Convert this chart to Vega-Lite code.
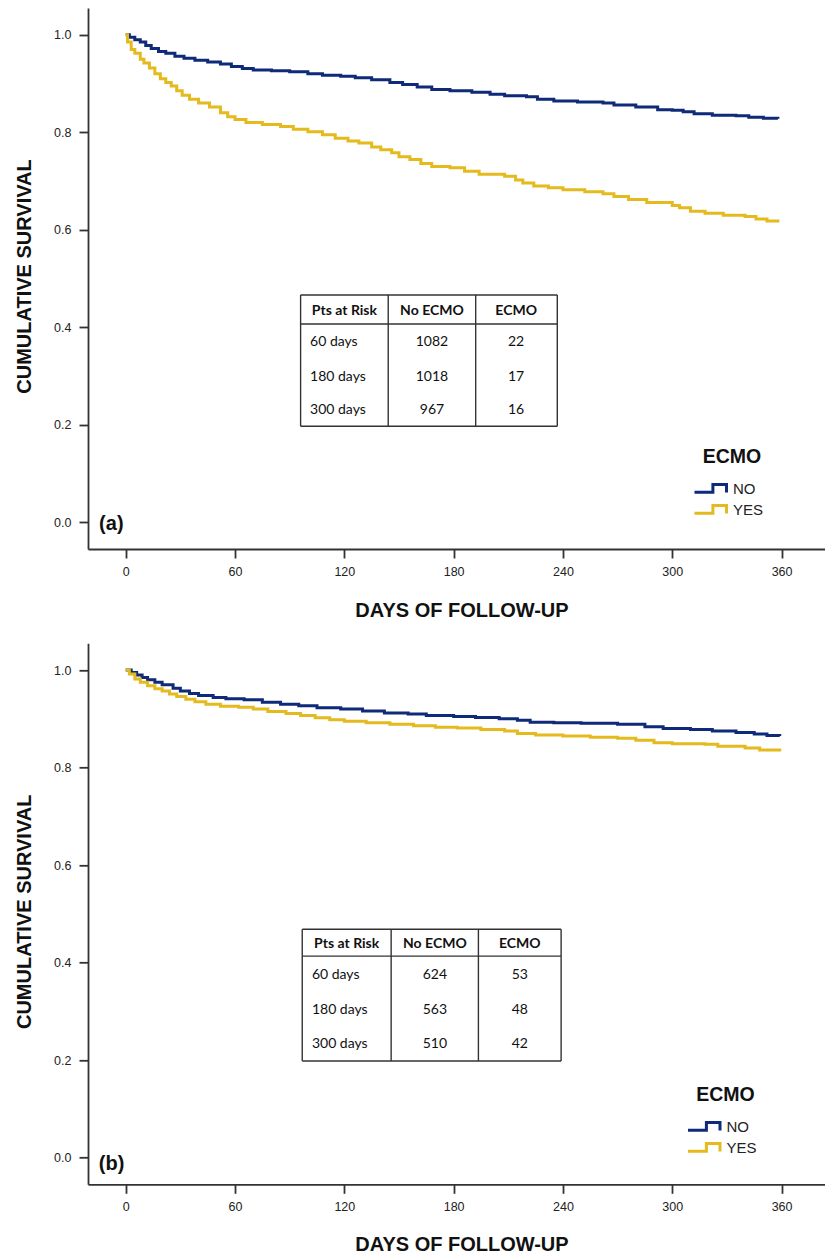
{
  "$schema": "https://vega.github.io/schema/vega-lite/v6.json",
  "padding": {"left": 14, "top": 8, "right": 0, "bottom": 0},
  "bounds": "flush",
  "spacing": 94.3,
  "background": "white",
  "config": {
    "view": {"stroke": null},
    "font": "Liberation Sans",
    "axis": {
      "grid": false,
      "labelFont": "Liberation Sans",
      "labelFontSize": 12.5,
      "labelColor": "#222222",
      "tickSize": 9,
      "tickWidth": 1.8,
      "tickColor": "#333333",
      "domainColor": "#333333",
      "domainWidth": 1.8,
      "titleFont": "Liberation Sans",
      "titleFontSize": 20,
      "titleFontWeight": "bold",
      "titleColor": "#111111",
      "titleBaseline": "alphabetic"
    },
    "axisX": {"labelPadding": 7, "titleX": 373.5, "titleY": 67.3, "labelFlush": false},
    "axisY": {"labelPadding": 8, "titleX": -58, "titleY": 268, "titleAngle": 270}
  },
  "datasets": {
    "a_curve": [
      {"day":0,"surv":1.0,"grp":"NO"},{"day":2,"surv":0.995,"grp":"NO"},{"day":5,"surv":0.99,"grp":"NO"},{"day":8,"surv":0.985,"grp":"NO"},{"day":11,"surv":0.978,"grp":"NO"},{"day":14,"surv":0.972,"grp":"NO"},{"day":18,"surv":0.966,"grp":"NO"},{"day":22,"surv":0.962,"grp":"NO"},{"day":27,"surv":0.956,"grp":"NO"},{"day":32,"surv":0.952,"grp":"NO"},{"day":38,"surv":0.948,"grp":"NO"},{"day":45,"surv":0.944,"grp":"NO"},{"day":52,"surv":0.94,"grp":"NO"},{"day":58,"surv":0.935,"grp":"NO"},{"day":64,"surv":0.931,"grp":"NO"},{"day":70,"surv":0.928,"grp":"NO"},{"day":80,"surv":0.926,"grp":"NO"},{"day":90,"surv":0.924,"grp":"NO"},{"day":100,"surv":0.92,"grp":"NO"},{"day":108,"surv":0.917,"grp":"NO"},{"day":118,"surv":0.915,"grp":"NO"},{"day":126,"surv":0.912,"grp":"NO"},{"day":135,"surv":0.908,"grp":"NO"},{"day":145,"surv":0.902,"grp":"NO"},{"day":152,"surv":0.898,"grp":"NO"},{"day":160,"surv":0.893,"grp":"NO"},{"day":168,"surv":0.888,"grp":"NO"},{"day":178,"surv":0.885,"grp":"NO"},{"day":190,"surv":0.882,"grp":"NO"},{"day":200,"surv":0.878,"grp":"NO"},{"day":208,"surv":0.875,"grp":"NO"},{"day":220,"surv":0.873,"grp":"NO"},{"day":226,"surv":0.868,"grp":"NO"},{"day":235,"surv":0.864,"grp":"NO"},{"day":248,"surv":0.862,"grp":"NO"},{"day":262,"surv":0.86,"grp":"NO"},{"day":268,"surv":0.856,"grp":"NO"},{"day":280,"surv":0.852,"grp":"NO"},{"day":292,"surv":0.846,"grp":"NO"},{"day":300,"surv":0.845,"grp":"NO"},{"day":306,"surv":0.842,"grp":"NO"},{"day":312,"surv":0.838,"grp":"NO"},{"day":322,"surv":0.835,"grp":"NO"},{"day":335,"surv":0.834,"grp":"NO"},{"day":342,"surv":0.831,"grp":"NO"},{"day":350,"surv":0.829,"grp":"NO"},{"day":358,"surv":0.828,"grp":"NO"},
      {"day":0,"surv":1.0,"grp":"YES"},{"day":1,"surv":0.985,"grp":"YES"},{"day":3,"surv":0.97,"grp":"YES"},{"day":5,"surv":0.962,"grp":"YES"},{"day":8,"surv":0.95,"grp":"YES"},{"day":10,"surv":0.942,"grp":"YES"},{"day":13,"surv":0.932,"grp":"YES"},{"day":16,"surv":0.92,"grp":"YES"},{"day":19,"surv":0.91,"grp":"YES"},{"day":22,"surv":0.902,"grp":"YES"},{"day":25,"surv":0.895,"grp":"YES"},{"day":28,"surv":0.885,"grp":"YES"},{"day":31,"surv":0.876,"grp":"YES"},{"day":35,"surv":0.868,"grp":"YES"},{"day":40,"surv":0.86,"grp":"YES"},{"day":46,"surv":0.852,"grp":"YES"},{"day":52,"surv":0.84,"grp":"YES"},{"day":56,"surv":0.832,"grp":"YES"},{"day":60,"surv":0.826,"grp":"YES"},{"day":66,"surv":0.82,"grp":"YES"},{"day":75,"surv":0.816,"grp":"YES"},{"day":85,"surv":0.812,"grp":"YES"},{"day":92,"surv":0.806,"grp":"YES"},{"day":100,"surv":0.801,"grp":"YES"},{"day":108,"surv":0.795,"grp":"YES"},{"day":115,"surv":0.788,"grp":"YES"},{"day":122,"surv":0.782,"grp":"YES"},{"day":128,"surv":0.778,"grp":"YES"},{"day":135,"surv":0.77,"grp":"YES"},{"day":140,"surv":0.764,"grp":"YES"},{"day":146,"surv":0.758,"grp":"YES"},{"day":150,"surv":0.75,"grp":"YES"},{"day":156,"surv":0.744,"grp":"YES"},{"day":162,"surv":0.736,"grp":"YES"},{"day":168,"surv":0.73,"grp":"YES"},{"day":178,"surv":0.727,"grp":"YES"},{"day":186,"surv":0.72,"grp":"YES"},{"day":194,"surv":0.714,"grp":"YES"},{"day":208,"surv":0.71,"grp":"YES"},{"day":214,"surv":0.702,"grp":"YES"},{"day":218,"surv":0.696,"grp":"YES"},{"day":224,"surv":0.69,"grp":"YES"},{"day":232,"surv":0.686,"grp":"YES"},{"day":240,"surv":0.682,"grp":"YES"},{"day":252,"surv":0.678,"grp":"YES"},{"day":262,"surv":0.674,"grp":"YES"},{"day":268,"surv":0.668,"grp":"YES"},{"day":276,"surv":0.662,"grp":"YES"},{"day":286,"surv":0.656,"grp":"YES"},{"day":300,"surv":0.65,"grp":"YES"},{"day":304,"surv":0.645,"grp":"YES"},{"day":310,"surv":0.638,"grp":"YES"},{"day":318,"surv":0.634,"grp":"YES"},{"day":328,"surv":0.63,"grp":"YES"},{"day":340,"surv":0.627,"grp":"YES"},{"day":346,"surv":0.622,"grp":"YES"},{"day":352,"surv":0.618,"grp":"YES"},{"day":358,"surv":0.615,"grp":"YES"}
    ],
    "b_curve": [
      {"day":0,"surv":1.0,"grp":"NO"},{"day":3,"surv":0.995,"grp":"NO"},{"day":6,"surv":0.99,"grp":"NO"},{"day":9,"surv":0.985,"grp":"NO"},{"day":12,"surv":0.98,"grp":"NO"},{"day":16,"surv":0.975,"grp":"NO"},{"day":20,"surv":0.97,"grp":"NO"},{"day":26,"surv":0.963,"grp":"NO"},{"day":30,"surv":0.957,"grp":"NO"},{"day":35,"surv":0.952,"grp":"NO"},{"day":40,"surv":0.948,"grp":"NO"},{"day":48,"surv":0.944,"grp":"NO"},{"day":55,"surv":0.941,"grp":"NO"},{"day":65,"surv":0.939,"grp":"NO"},{"day":75,"surv":0.934,"grp":"NO"},{"day":85,"surv":0.93,"grp":"NO"},{"day":95,"surv":0.927,"grp":"NO"},{"day":105,"surv":0.923,"grp":"NO"},{"day":118,"surv":0.92,"grp":"NO"},{"day":130,"surv":0.916,"grp":"NO"},{"day":142,"surv":0.912,"grp":"NO"},{"day":155,"surv":0.91,"grp":"NO"},{"day":165,"surv":0.907,"grp":"NO"},{"day":180,"surv":0.905,"grp":"NO"},{"day":192,"surv":0.903,"grp":"NO"},{"day":205,"surv":0.9,"grp":"NO"},{"day":215,"surv":0.897,"grp":"NO"},{"day":222,"surv":0.893,"grp":"NO"},{"day":235,"surv":0.892,"grp":"NO"},{"day":250,"surv":0.891,"grp":"NO"},{"day":270,"surv":0.889,"grp":"NO"},{"day":285,"surv":0.884,"grp":"NO"},{"day":295,"surv":0.88,"grp":"NO"},{"day":310,"surv":0.878,"grp":"NO"},{"day":322,"surv":0.875,"grp":"NO"},{"day":335,"surv":0.872,"grp":"NO"},{"day":345,"surv":0.869,"grp":"NO"},{"day":352,"surv":0.866,"grp":"NO"},{"day":359,"surv":0.865,"grp":"NO"},
      {"day":0,"surv":1.0,"grp":"YES"},{"day":2,"surv":0.992,"grp":"YES"},{"day":5,"surv":0.982,"grp":"YES"},{"day":8,"surv":0.975,"grp":"YES"},{"day":12,"surv":0.968,"grp":"YES"},{"day":16,"surv":0.962,"grp":"YES"},{"day":20,"surv":0.957,"grp":"YES"},{"day":24,"surv":0.951,"grp":"YES"},{"day":28,"surv":0.946,"grp":"YES"},{"day":33,"surv":0.94,"grp":"YES"},{"day":38,"surv":0.935,"grp":"YES"},{"day":44,"surv":0.93,"grp":"YES"},{"day":52,"surv":0.926,"grp":"YES"},{"day":62,"surv":0.924,"grp":"YES"},{"day":70,"surv":0.92,"grp":"YES"},{"day":78,"surv":0.915,"grp":"YES"},{"day":88,"surv":0.911,"grp":"YES"},{"day":96,"surv":0.907,"grp":"YES"},{"day":104,"surv":0.902,"grp":"YES"},{"day":112,"surv":0.898,"grp":"YES"},{"day":120,"surv":0.895,"grp":"YES"},{"day":132,"surv":0.892,"grp":"YES"},{"day":145,"surv":0.889,"grp":"YES"},{"day":158,"surv":0.886,"grp":"YES"},{"day":170,"surv":0.883,"grp":"YES"},{"day":182,"surv":0.881,"grp":"YES"},{"day":195,"surv":0.878,"grp":"YES"},{"day":208,"surv":0.875,"grp":"YES"},{"day":215,"surv":0.87,"grp":"YES"},{"day":225,"surv":0.867,"grp":"YES"},{"day":240,"surv":0.865,"grp":"YES"},{"day":255,"surv":0.862,"grp":"YES"},{"day":270,"surv":0.86,"grp":"YES"},{"day":280,"surv":0.856,"grp":"YES"},{"day":290,"surv":0.851,"grp":"YES"},{"day":300,"surv":0.849,"grp":"YES"},{"day":318,"surv":0.848,"grp":"YES"},{"day":325,"surv":0.844,"grp":"YES"},{"day":340,"surv":0.84,"grp":"YES"},{"day":348,"surv":0.836,"grp":"YES"},{"day":359,"surv":0.833,"grp":"YES"}
    ],
    "a_lines": [
      {"day":96.0,"day2":236.9,"surv":0.4662,"surv2":0.4662},
      {"day":96.0,"day2":236.9,"surv":0.4067,"surv2":0.4067},
      {"day":96.0,"day2":236.9,"surv":0.1969,"surv2":0.1969},
      {"day":96.0,"day2":96.0,"surv":0.1969,"surv2":0.4662},
      {"day":144.1,"day2":144.1,"surv":0.1969,"surv2":0.4662},
      {"day":192.1,"day2":192.1,"surv":0.1969,"surv2":0.4662},
      {"day":236.9,"day2":236.9,"surv":0.1969,"surv2":0.4662}
    ],
    "b_lines": [
      {"day":96.9,"day2":239.0,"surv":0.4684,"surv2":0.4684},
      {"day":96.9,"day2":239.0,"surv":0.4131,"surv2":0.4131},
      {"day":96.9,"day2":239.0,"surv":0.198,"surv2":0.198},
      {"day":96.9,"day2":96.9,"surv":0.198,"surv2":0.4684},
      {"day":145.7,"day2":145.7,"surv":0.198,"surv2":0.4684},
      {"day":193.6,"day2":193.6,"surv":0.198,"surv2":0.4684},
      {"day":239.0,"day2":239.0,"surv":0.198,"surv2":0.4684}
    ],
    "a_head": [
      {"day":120.05,"surv":0.434,"t":"Pts at Risk"},
      {"day":168.1,"surv":0.434,"t":"No ECMO"},
      {"day":214.3,"surv":0.434,"t":"ECMO"}
    ],
    "b_head": [
      {"day":121.3,"surv":0.439,"t":"Pts at Risk"},
      {"day":169.7,"surv":0.439,"t":"No ECMO"},
      {"day":216.3,"surv":0.439,"t":"ECMO"}
    ],
    "a_num": [
      {"day":168.1,"surv":0.369,"t":"1082"},
      {"day":214.3,"surv":0.369,"t":"22"},
      {"day":168.1,"surv":0.2986,"t":"1018"},
      {"day":214.3,"surv":0.2986,"t":"17"},
      {"day":168.1,"surv":0.2303,"t":"967"},
      {"day":214.3,"surv":0.2303,"t":"16"}
    ],
    "b_num": [
      {"day":169.7,"surv":0.3742,"t":"624"},
      {"day":216.3,"surv":0.3742,"t":"53"},
      {"day":169.7,"surv":0.3025,"t":"563"},
      {"day":216.3,"surv":0.3025,"t":"48"},
      {"day":169.7,"surv":0.2322,"t":"510"},
      {"day":216.3,"surv":0.2322,"t":"42"}
    ],
    "a_days": [
      {"day":101.2,"surv":0.369,"t":"60 days"},
      {"day":101.2,"surv":0.2986,"t":"180 days"},
      {"day":101.2,"surv":0.2303,"t":"300 days"}
    ],
    "b_days": [
      {"day":102.2,"surv":0.3742,"t":"60 days"},
      {"day":102.2,"surv":0.3025,"t":"180 days"},
      {"day":102.2,"surv":0.2322,"t":"300 days"}
    ],
    "a_lab": [{"day":-14.6,"surv":-0.004,"t":"(a)"}],
    "b_lab": [{"day":-14.8,"surv":-0.0137,"t":"(b)"}]
  },
  "vconcat": [
    {
      "width": 737,
      "height": 541,
      "encoding": {
        "x": {"field": "day", "type": "quantitative", "scale": {"domain": [-20.7, 383.85], "nice": false, "zero": false},
              "axis": {"values": [0, 60, 120, 180, 240, 300, 360], "title": "DAYS OF FOLLOW-UP"}},
        "y": {"field": "surv", "type": "quantitative", "scale": {"domain": [-0.055, 1.055], "nice": false, "zero": false},
              "axis": {"values": [0, 0.2, 0.4, 0.6, 0.8, 1.0], "format": ".1f", "title": "CUMULATIVE SURVIVAL"}}
      },
      "layer": [
        {"data": {"values": [{"k": 1}]}, "mark": {"type": "rule", "color": "#333333", "strokeWidth": 1.8},
         "encoding": {"x": {"datum": -20.7, "type": "quantitative"}, "x2": {"datum": 383.85}, "y": {"datum": 1.055, "type": "quantitative"}}},
        {"data": {"name": "a_lines"}, "mark": {"type": "rule", "color": "#333333", "strokeWidth": 1.4},
         "encoding": {"x2": {"field": "day2"}, "y2": {"field": "surv2"}}},
        {"data": {"name": "a_head"}, "mark": {"type": "text", "font": "Lato", "fontSize": 14, "fontWeight": "bold", "align": "center", "baseline": "middle", "color": "#111111"},
         "encoding": {"text": {"field": "t"}}},
        {"data": {"name": "a_num"}, "mark": {"type": "text", "font": "Lato", "fontSize": 14, "align": "center", "baseline": "middle", "color": "#111111"},
         "encoding": {"text": {"field": "t"}}},
        {"data": {"name": "a_days"}, "mark": {"type": "text", "font": "Lato", "fontSize": 14, "align": "left", "baseline": "middle", "color": "#111111"},
         "encoding": {"text": {"field": "t"}}},
        {"data": {"name": "a_lab"}, "mark": {"type": "text", "font": "Liberation Sans", "fontSize": 20, "fontWeight": "bold", "align": "left", "baseline": "middle", "color": "#111111"},
         "encoding": {"text": {"field": "t"}}},
        {"data": {"name": "a_curve"}, "mark": {"type": "line", "interpolate": "step-after", "strokeWidth": 3},
         "encoding": {
           "color": {"field": "grp", "type": "nominal", "scale": {"domain": ["NO", "YES"], "range": ["#0e2a78", "#e4ba1e"]},
             "legend": {"orient": "none", "legendX": 613, "legendY": 439.5, "title": "ECMO", "titleFont": "Liberation Sans", "titleFontSize": 19.5, "titleFontWeight": "bold", "titleColor": "#111111", "titleAnchor": "middle", "titlePadding": 12.5,
               "labelFont": "Liberation Sans", "labelFontSize": 15, "labelColor": "#222222", "labelOffset": 13,
               "symbolType": "M-2,0.4H0.3V-0.55H2V0.45", "symbolSize": 256, "symbolStrokeWidth": 3, "symbolFillColor": "transparent", "rowPadding": 0, "padding": 0}}
         }}
      ]
    },
    {
      "width": 737,
      "height": 541,
      "encoding": {
        "x": {"field": "day", "type": "quantitative", "scale": {"domain": [-20.7, 383.85], "nice": false, "zero": false},
              "axis": {"values": [0, 60, 120, 180, 240, 300, 360], "title": "DAYS OF FOLLOW-UP", "titleY": 66}},
        "y": {"field": "surv", "type": "quantitative", "scale": {"domain": [-0.055, 1.055], "nice": false, "zero": false},
              "axis": {"values": [0, 0.2, 0.4, 0.6, 0.8, 1.0], "format": ".1f", "title": "CUMULATIVE SURVIVAL"}}
      },
      "layer": [
        {"data": {"values": [{"k": 1}]}, "mark": {"type": "rule", "color": "#333333", "strokeWidth": 1.8},
         "encoding": {"x": {"datum": -20.7, "type": "quantitative"}, "x2": {"datum": 383.85}, "y": {"datum": 1.055, "type": "quantitative"}}},
        {"data": {"name": "b_lines"}, "mark": {"type": "rule", "color": "#333333", "strokeWidth": 1.4},
         "encoding": {"x2": {"field": "day2"}, "y2": {"field": "surv2"}}},
        {"data": {"name": "b_head"}, "mark": {"type": "text", "font": "Lato", "fontSize": 14, "fontWeight": "bold", "align": "center", "baseline": "middle", "color": "#111111"},
         "encoding": {"text": {"field": "t"}}},
        {"data": {"name": "b_num"}, "mark": {"type": "text", "font": "Lato", "fontSize": 14, "align": "center", "baseline": "middle", "color": "#111111"},
         "encoding": {"text": {"field": "t"}}},
        {"data": {"name": "b_days"}, "mark": {"type": "text", "font": "Lato", "fontSize": 14, "align": "left", "baseline": "middle", "color": "#111111"},
         "encoding": {"text": {"field": "t"}}},
        {"data": {"name": "b_lab"}, "mark": {"type": "text", "font": "Liberation Sans", "fontSize": 20, "fontWeight": "bold", "align": "left", "baseline": "middle", "color": "#111111"},
         "encoding": {"text": {"field": "t"}}},
        {"data": {"name": "b_curve"}, "mark": {"type": "line", "interpolate": "step-after", "strokeWidth": 3},
         "encoding": {
           "color": {"field": "grp", "type": "nominal", "scale": {"domain": ["NO", "YES"], "range": ["#0e2a78", "#e4ba1e"]},
             "legend": {"orient": "none", "legendX": 606.5, "legendY": 442.2, "title": "ECMO", "titleFont": "Liberation Sans", "titleFontSize": 19.5, "titleFontWeight": "bold", "titleColor": "#111111", "titleAnchor": "middle", "titlePadding": 12.5,
               "labelFont": "Liberation Sans", "labelFontSize": 15, "labelColor": "#222222", "labelOffset": 13,
               "symbolType": "M-2,0.4H0.3V-0.55H2V0.45", "symbolSize": 256, "symbolStrokeWidth": 3, "symbolFillColor": "transparent", "rowPadding": 0, "padding": 0}}
         }}
      ]
    }
  ],
  "resolve": {"scale": {"color": "independent"}, "legend": {"color": "independent"}}
}
